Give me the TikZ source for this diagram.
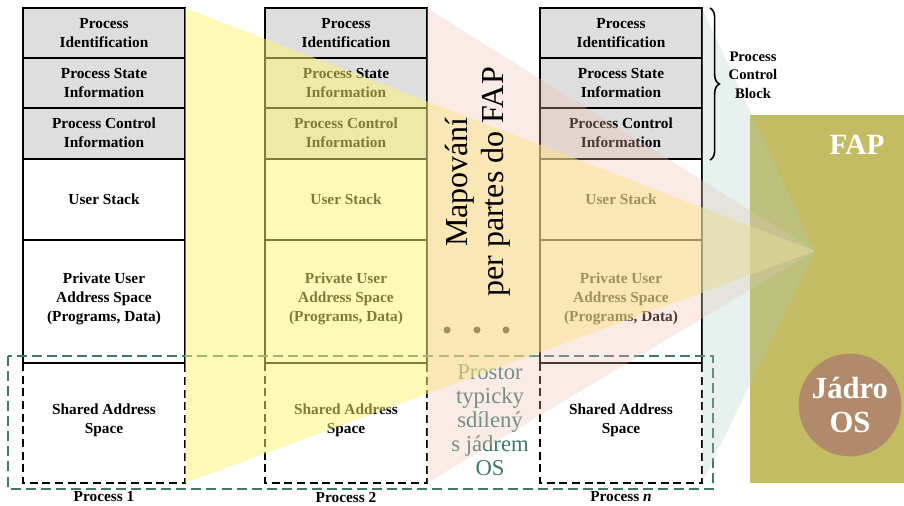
\documentclass[tikz,border=0pt]{standalone}
\usepackage{fontspec}
\setmainfont{Liberation Serif}
\usepackage{xcolor}
\definecolor{pcbgray}{HTML}{DEDEDE}
\definecolor{fapolive}{HTML}{C4BC62}
\definecolor{kernbrown}{HTML}{B08A6A}
\definecolor{sharedteal}{HTML}{3E7A6C}
\definecolor{mapyellow}{RGB}{255,245,115}
\definecolor{mappink}{RGB}{242,192,178}
\definecolor{mapteal}{RGB}{170,211,196}
\usepackage{tikz}
\usetikzlibrary{decorations.pathreplacing}

\begin{document}
\begin{tikzpicture}[x=0.75pt, y=-0.75pt, line width=1.4pt,
	rowtext/.style={font=\bfseries\fontsize{11.5}{14.5}\selectfont, align=center},
	shareddash/.style={line width=1.5pt, dash pattern=on 6pt off 3.5pt},
	osdash/.style={sharedteal, line width=2.1pt, dash pattern=on 7.5pt off 3.8pt}]
	\useasboundingbox (0,0) rectangle (904,506);
	\fill[white] (0,0) rectangle (904,506);
	
	\foreach \cx/\i in {23/1, 265/2, 540/n} {
		\fill[pcbgray] (\cx,8) rectangle (\cx+162,159);
		\draw[shareddash] (\cx,363) -- (\cx,483) -- (\cx+162,483) -- (\cx+162,363);
		\draw (\cx,8) rectangle (\cx+162,363);
		\foreach \yy in {58,108,159,240} {\draw (\cx,\yy) -- (\cx+162,\yy);}
		\node[rowtext] (id\i) at (\cx+81,33) {Process\\Identification};
		\node[rowtext] (state\i) at (\cx+81,83) {Process State\\Information};
		\node[rowtext] (ctrl\i) at (\cx+81,133) {Process Control\\Information};
		\node[rowtext] (stack\i) at (\cx+81,199) {User Stack};
		\node[rowtext] (priv\i) at (\cx+81,299) {Private User\\Address Space\\(Programs, Data)};
		\node[rowtext] (shared\i) at (\cx+81,420) {Shared Address\\Space};
	}
	\node[rowtext] (name1) at (104,497) {Process 1};
	\node[rowtext] (name2) at (346,497) {Process 2};
	\node[rowtext] (namen) at (621,497) {Process \textit{n}};
	
	\draw[osdash] (8,356) rectangle (713,489);
	\node[sharedteal, align=center, font=\fontsize{17}{18}\selectfont] (ostext) at (490,420) {Prostor\\typicky\\sdílený\\s jádrem\\OS};
	\foreach \dx in {447,477,506} {\fill (\dx,330) circle[radius=3.5];}
	
	\fill[fapolive] (750,115) rectangle (904,483);
	\node[text=white, font=\bfseries\fontsize{22}{26}\selectfont] (fap) at (857,145) {FAP};
	\node[circle, fill=kernbrown, inner sep=0pt, minimum size=77pt, text=white, align=center,
		font=\bfseries\fontsize{23}{25}\selectfont] (kernel) at (850,405) {Jádro\\OS};
	
	\coordinate (focus) at (815,251);
	\fill[mapyellow, opacity=0.5] (185,8) -- (focus) -- (185,483) -- cycle;
	\fill[mappink, opacity=0.3] (427,8) -- (focus) -- (427,483) -- cycle;
	\fill[mapteal, opacity=0.28] (702,8) -- (focus) -- (702,483) -- cycle;
	
	\node[rotate=90, align=center, font=\fontsize{24}{27}\selectfont] (maptext) at (478,182) {Mapování\\per partes do FAP};
	\draw[line width=1.2pt, decorate, decoration={brace, amplitude=7pt}] (710,8) -- (710,160);
	\node[rowtext, font=\bfseries\fontsize{11}{14}\selectfont] (pcb) at (753,75) {Process\\Control\\Block};
\end{tikzpicture}
\end{document}
